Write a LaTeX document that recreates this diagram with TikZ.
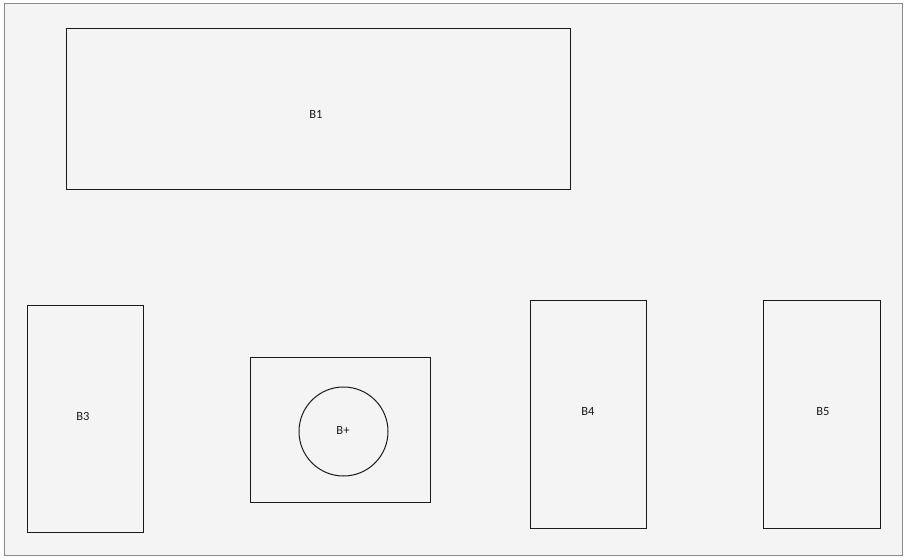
\documentclass[tikz,border=0pt]{standalone}
\usepackage{fontspec}
\setmainfont{Carlito}
\usepackage{tikz}
\usetikzlibrary{positioning}
\definecolor{paper}{HTML}{F3F4F3}
\definecolor{frame}{HTML}{8A8A8A}
\definecolor{ink}{HTML}{1A1A1A}

\begin{document}
\begin{tikzpicture}[x=1pt,y=-1pt,
  blk/.style={draw=ink,line width=1pt,inner sep=0pt},
  hole/.style={blk,circle},
  tag/.style={inner sep=0pt,font=\fontsize{12.5}{13}\selectfont,text=ink}]
  \useasboundingbox (0,0) rectangle (905,557);
  \fill[paper,draw=frame,line width=0.8pt] (4,3) rectangle (902,555);
  % upper block
  \node[blk,minimum width=504,minimum height=161] (b1) at (318,108.5) {};
  \node[tag] (t1) at (316,114) {B1};
  % lower row
  \node[blk,minimum width=116,minimum height=227] (b3) at (85,418.5) {};
  \node[tag] (t3) at (83,416.5) {B3};
  \node[blk,minimum width=180,minimum height=145] (b2) at (340,429.5) {};
  \node[hole,minimum size=89] (bp) at (343.5,431.5) {};
  \node[tag] (tp) at (343,430) {B+};
  \node[blk,minimum width=116,minimum height=228] (b4) at (588,414) {};
  \node[tag] (t4) at (588,411.5) {B4};
  \node[blk,minimum width=117,minimum height=228] (b5) at (821.5,414) {};
  \node[tag] (t5) at (823,411.5) {B5};
\end{tikzpicture}
\end{document}
